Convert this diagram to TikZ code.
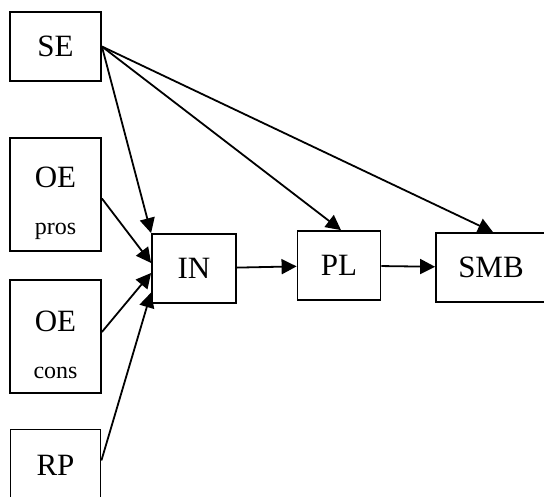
\documentclass[tikz,border=0pt]{standalone}
\usepackage{fontspec}
\setmainfont{Liberation Serif}
\usetikzlibrary{arrows.meta,positioning}
\newcommand{\subtxt}[1]{{\fontsize{24pt}{47pt}\selectfont #1}}
\tikzstyle{box} = [rectangle, minimum width = 91pt, minimum height = 69pt, inner sep = 0pt, text centered, line width = 1.8pt, draw = black, font = \fontsize{31pt}{47pt}\selectfont]
\tikzstyle{tallbox} = [box, minimum height = 113pt, align = center]
\tikzstyle{arrow} = [line width = 1.8pt, -{Triangle[length = 15pt, width = 15pt]}]

\begin{document}
\begin{tikzpicture}[node distance = 145pt]
    \useasboundingbox (0,0) rectangle (544pt,497pt);
    \node (se) [box] at (55.5pt,450.5pt) {SE};
    \node (pros) [tallbox, below of=se, yshift=-3pt] {\rule{0pt}{38pt}OE\\\subtxt{pros}};
    \node (cons) [tallbox, below of=pros, yshift=3pt] {\rule{0pt}{38pt}OE\\\subtxt{cons}};
    \node (rp) [box, below of=cons, yshift=16pt, minimum width=90pt, minimum height=72pt] {RP};

    \node (in) [box, minimum width=84pt] at (194pt,228.5pt) {IN};
    \node (pl) [box, right of=in, yshift=3pt, minimum width=83pt] {PL};
    \node (smb) [box, right of=pl, xshift=7pt, yshift=-2pt, minimum width=110pt] {SMB};

    \draw [arrow] (se.east) -- (in.north west);
    \draw [arrow] (se.east) -- ([xshift=2pt]pl.north);
    \draw [arrow] (se.east) -- ([xshift=2pt]smb.north);
    \draw [arrow] ([yshift=-4pt]pros.east) -- ([yshift=5.5pt]in.west);
    \draw [arrow] ([yshift=4.5pt]cons.east) -- ([yshift=-4.5pt]in.west);
    \draw [arrow] ([yshift=5pt]rp.east) -- ([yshift=-24pt]in.west);

    \draw [arrow] (in) -- (pl);
    \draw [arrow] (pl) -- (smb);
\end{tikzpicture}
\end{document}
